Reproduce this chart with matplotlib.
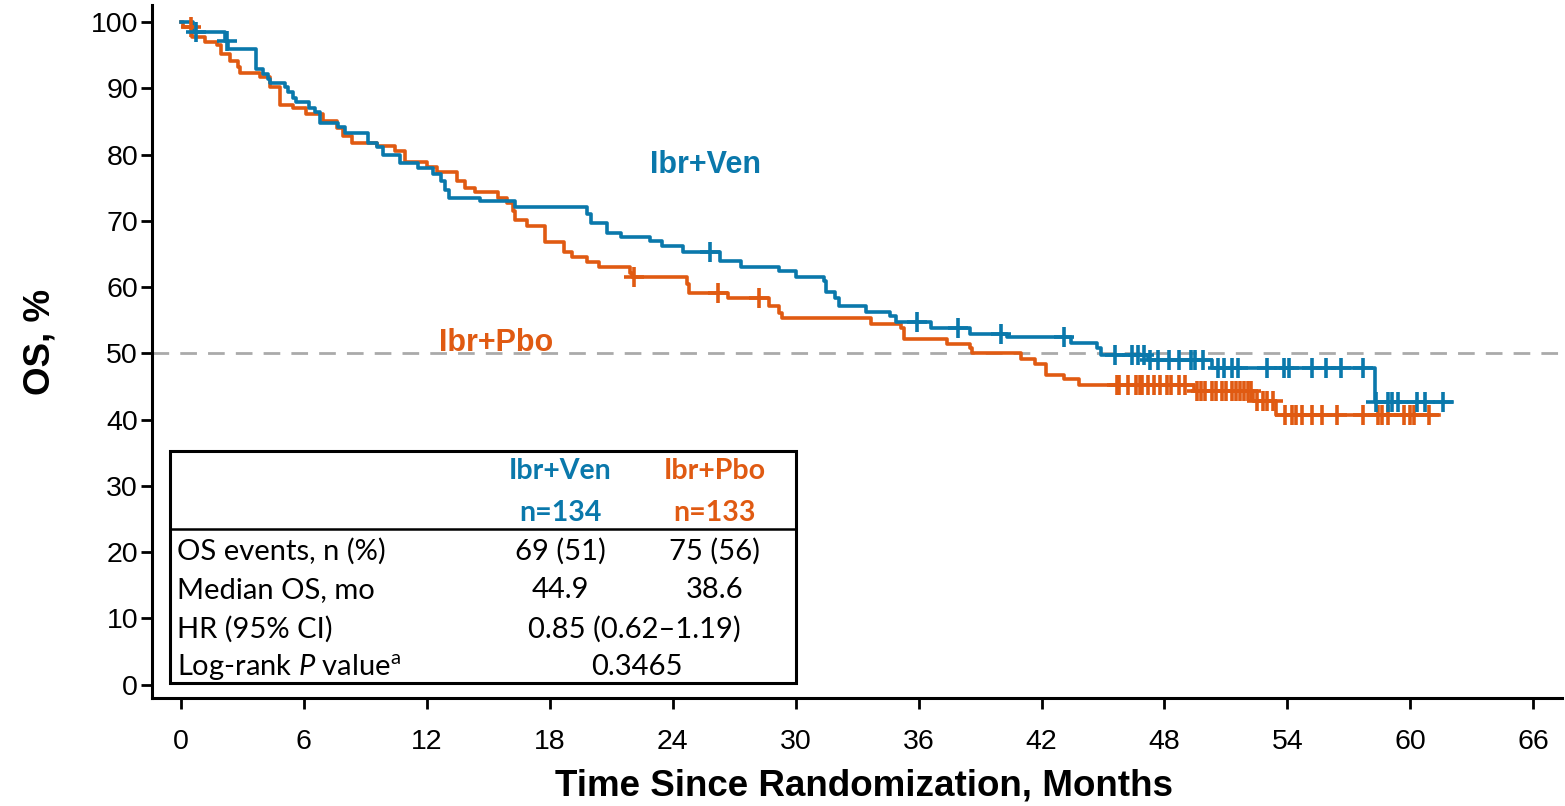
import matplotlib
matplotlib.use("Agg")
import matplotlib.pyplot as plt
from matplotlib.patches import Rectangle

plt.rcParams['font.family'] = ['Liberation Sans', 'DejaVu Sans']
plt.rcParams['mathtext.fontset'] = 'custom'
plt.rcParams['mathtext.rm'] = 'Lato'
plt.rcParams['mathtext.it'] = 'Lato:italic'

# ---- data ----
# Ibr+Ven: event times (months) and survival (%) after each step
ven_t = [0, 0.6, 2.15, 2.3, 3.66, 4.0, 4.26, 4.37, 5.07, 5.24, 5.48, 5.64, 6.26, 6.54,
         6.78, 7.68, 8.0, 9.14, 9.55, 9.87, 10.68, 11.58, 12.3, 12.7, 12.9, 13.1, 14.6,
         16.3, 19.8, 20.0, 20.8, 21.5, 22.9, 23.5, 24.5, 26.3, 27.35, 29.2, 30.0, 31.4,
         31.5, 31.9, 32.1, 33.45, 34.6, 34.9, 36.6, 38.5, 40.3, 43.45, 44.7, 44.9, 47.2,
         50.3, 58.25, 62.05]
ven_s = [100, 98.5, 97.2, 95.9, 92.9, 92.2, 91.4, 90.8, 90.2, 89.4, 88.6, 87.9, 87.1, 86.4,
         84.8, 84.1, 83.3, 81.8, 81.1, 80.0, 78.8, 78.0, 77.0, 76.0, 74.6, 73.5, 73.0,
         72.1, 71.0, 69.7, 68.2, 67.5, 66.9, 66.2, 65.3, 63.9, 63.1, 62.4, 61.6, 60.9,
         59.3, 58.3, 57.1, 56.3, 55.6, 54.8, 53.9, 53.0, 52.4, 51.6, 50.8, 49.8, 49.0,
         47.8, 42.6, 42.6]
ven_cens = [0.75, 2.25, 25.8, 35.9, 37.9, 40.0, 43.1, 45.6, 46.4, 46.7, 47.0, 47.3, 47.7,
            48.2, 48.7, 49.3, 49.5, 49.9, 50.6, 50.9, 51.3, 51.6, 53.0, 53.85, 54.1, 55.2,
            55.9, 56.6, 57.7, 58.3, 58.9, 59.1, 59.4, 60.3, 60.7, 61.6]

# Ibr+Pbo
pbo_t = [0, 0.1, 0.52, 1.17, 1.74, 1.98, 2.39, 2.8, 2.9, 3.85, 4.34, 4.83, 5.48, 6.13,
         6.94, 7.6, 7.9, 8.33, 9.55, 10.44, 10.93, 12.0, 12.5, 13.5, 13.85, 14.34, 15.5,
         15.9, 16.2, 16.3, 16.9, 17.75, 18.7, 19.1, 19.8, 20.4, 21.9, 22.0, 24.7, 24.8,
         26.7, 28.7, 29.2, 29.35, 33.7, 35.15, 35.3, 37.4, 38.5, 38.6, 41.0, 41.7, 42.2,
         43.1, 43.85, 49.46, 52.3, 53.45, 61.4]
pbo_s = [100, 99.2, 97.7, 97.0, 96.5, 95.2, 94.2, 93.2, 92.3, 91.7, 90.2, 87.5, 87.0, 86.2,
         85.1, 84.0, 82.8, 81.8, 81.3, 80.5, 78.9, 78.1, 77.4, 76.0, 75.0, 74.3, 73.5,
         72.7, 71.5, 70.2, 69.2, 66.8, 65.3, 64.5, 63.8, 63.0, 62.2, 61.6, 60.4, 59.1,
         58.3, 57.2, 56.1, 55.4, 54.5, 53.8, 52.2, 51.4, 50.8, 50.0, 49.2, 48.4, 46.7,
         46.1, 45.3, 44.4, 42.8, 40.7, 40.7]
pbo_cens = [0.5, 22.1, 26.2, 28.2, 45.7, 45.8, 46.2, 46.6, 46.8, 46.9, 47.2, 47.5, 47.8,
            48.1, 48.3, 48.7, 49.0, 49.6, 49.8, 50.0, 50.3, 50.5, 50.8, 51.0, 51.3, 51.5,
            51.7, 51.9, 52.1, 52.2, 52.5, 52.8, 53.0, 53.3, 53.9, 54.2, 54.4, 54.7, 55.2,
            55.7, 56.4, 57.7, 58.4, 58.6, 58.9, 59.7, 60.0, 60.2, 60.9]

x_ticks = list(range(0, 67, 6))
y_ticks = list(range(0, 101, 10))

row_labels = ['OS events, n (%)', 'Median OS, mo', 'HR (95% CI)',
              'Log-rank $\\it{P}$ value$^{\\rm a}$']
ven_col = ['69 (51)', '44.9']
pbo_col = ['75 (56)', '38.6']
hr_text = '0.85 (0.62\u20131.19)'
p_text = '0.3465'

blue = '#0A78AB'
orange = '#E05A12'


def surv_at(times, surv, t):
    s = surv[0]
    for ti, si in zip(times, surv):
        if ti <= t:
            s = si
    return s


fig = plt.figure(figsize=(15.65, 8.06), dpi=100)
ax = fig.add_axes([0.0971, 0.134, 0.901, 0.860])

ax.axhline(50, color='#AAAAAA', lw=2, ls=(0, (6, 4)), zorder=1)

for tt, ss, cens, col in [(pbo_t, pbo_s, pbo_cens, orange), (ven_t, ven_s, ven_cens, blue)]:
    ax.step(tt, ss, where='post', color=col, lw=2.6, zorder=3)
    cy = [surv_at(tt, ss, c) for c in cens]
    ax.plot(cens, cy, ls='none', marker='+', ms=15, mew=2.6, color=col, zorder=4)

ax.set_xlim(-1.41, 67.4)
ax.set_ylim(-2.0, 102.6)
ax.set_xticks(x_ticks)
ax.set_yticks(y_ticks)
ax.tick_params(axis='both', direction='out', length=8, width=2, labelsize=20.5)
ax.tick_params(axis='x', pad=14)
ax.tick_params(axis='y', pad=2)
for side in ['top', 'right']:
    ax.spines[side].set_visible(False)
for side in ['left', 'bottom']:
    ax.spines[side].set_linewidth(2.2)

ax.set_xlabel('Time Since Randomization, Months', fontsize=26.5, fontweight='bold')
ax.set_ylabel('OS, %', fontsize=26.5, fontweight='bold')
ax.xaxis.set_label_coords(0.505, -0.102)
ax.yaxis.set_label_coords(-0.067, 0.514)

ax.text(25.6, 78.5, 'Ibr+Ven', color=blue, fontsize=22, fontweight='bold', ha='center', va='center')
ax.text(15.4, 51.6, 'Ibr+Pbo', color=orange, fontsize=22, fontweight='bold', ha='center', va='center')

# summary table
ax.add_patch(Rectangle((-0.54, 0.3), 30.54, 35.0, fill=False, lw=2.2, edgecolor='black', zorder=5))
ax.plot([-0.54, 30.0], [23.56, 23.56], color='black', lw=1.8, zorder=5)
tf = dict(family=['Lato', 'DejaVu Sans'], fontsize=21, va='center', zorder=6)
hf = dict(family=['Lato', 'DejaVu Sans'], fontsize=20.5, va='center', zorder=6, fontweight='bold')
ax.text(18.5, 32.3, 'Ibr+Ven', color=blue, ha='center', **hf)
ax.text(18.5, 25.9, 'n=134', color=blue, ha='center', **hf)
ax.text(26.05, 32.3, 'Ibr+Pbo', color=orange, ha='center', **hf)
ax.text(26.05, 25.9, 'n=133', color=orange, ha='center', **hf)
row_y = [20.2, 14.3, 8.4, 2.65]
for lab, yy in zip(row_labels, row_y):
    ax.text(-0.2, yy, lab, ha='left', **tf)
for i in range(2):
    ax.text(18.5, row_y[i], ven_col[i], ha='center', **tf)
    ax.text(26.05, row_y[i], pbo_col[i], ha='center', **tf)
ax.text(22.15, row_y[2], hr_text, ha='center', **tf)
ax.text(22.24, row_y[3], p_text, ha='center', **tf)

fig.savefig('out.png', dpi=100)
